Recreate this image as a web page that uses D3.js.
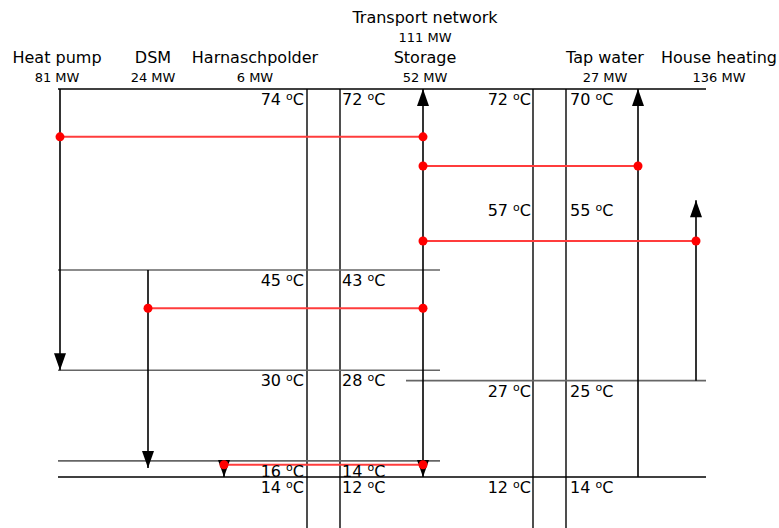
<!DOCTYPE html>
<html><head><meta charset="utf-8">
<script src="https://cdn.jsdelivr.net/npm/d3@7"></script>
<style>body{margin:0;background:#fff}svg{display:block}</style>
</head><body>
<script>
// ---------- DATA ----------
const units = ["Heat pump", "DSM", "Harnaschpolder", "Storage", "Tap water", "House heating"];
const unitMW = [81, 24, 6, 52, 27, 136];
const networkName = "Transport network";
const networkMW = 111;

// unit flows along the temperature axis (levels in °C)
const flowFrom = [74, 46, 16.5, 74, 14, 28.9];
const flowTo = [30.5, 15.4, 14, 14, 74, 56.8];
const flowBoth = [false, false, false, true, false, false];

// heat exchanges (red)
const exFrom = ["Heat pump", "Storage", "Storage", "DSM", "Harnaschpolder"];
const exTo = ["Storage", "Tap water", "House heating", "Storage", "Storage"];
const exLevel = [66.6, 62.1, 50.5, 40.1, 15.9];

// horizontal levels
const rowLevel = [74, 46, 30.5, 28.9, 16.5, 14];
const rowSpan = ["all", "left", "left", "right", "left", "all"];

// temperature labels
const leftLevel = [74, 46, 30.5, 16.5, 14];
const leftSupply = [74, 45, 30, 16, 14];
const leftReturn = [72, 43, 28, 14, 12];
const rightLevel = [74, 56.8, 28.9, 14];
const rightSupply = [72, 57, 27, 12];
const rightReturn = [70, 55, 25, 14];

// ---------- LAYOUT ----------
const W = 779, H = 528;
const font = "DejaVu Sans, Verdana, sans-serif";
const y = d3.scaleLinear().domain([74, 14]).range([89, 477]);
const x = d3.scaleOrdinal().domain(units).range([60, 148, 224, 423, 638, 696]);
const xHead = d3.scaleOrdinal().domain(units).range([57, 153, 255, 425, 605, 719]);
const pipes = [307, 340, 533, 566];
const spanX = {all: [58, 706], left: [58, 440], right: [406, 706]};

const svg = d3.select("body").append("svg").attr("width", W).attr("height", H)
  .style("font-family", font);

// pipes
svg.append("g").selectAll("line").data(pipes).join("line")
  .attr("x1", d => d).attr("x2", d => d)
  .attr("y1", y(74)).attr("y2", H)
  .attr("stroke", "#222").attr("stroke-width", 1.6);

// horizontal rows
svg.append("g").selectAll("line").data(rowLevel).join("line")
  .attr("x1", (d, i) => spanX[rowSpan[i]][0])
  .attr("x2", (d, i) => spanX[rowSpan[i]][1])
  .attr("y1", d => y(d)).attr("y2", d => y(d))
  .attr("stroke", (d, i) => rowSpan[i] === "all" ? "#000" : "#666")
  .attr("stroke-width", 1.6);

// flows
const fg = svg.append("g");
units.forEach((u, i) => {
  const xx = x(u), y0 = y(flowFrom[i]), y1 = y(flowTo[i]);
  fg.append("line").attr("x1", xx).attr("x2", xx).attr("y1", y0).attr("y2", y1)
    .attr("stroke", "#000").attr("stroke-width", 1.6);
  const tri = (tip, dir) => {
    const b = tip - dir * 17;
    return `M${xx - 6},${b}L${xx + 6},${b}L${xx},${tip}Z`;
  };
  const dir = y1 > y0 ? 1 : -1;
  fg.append("path").attr("d", tri(y1, dir)).attr("fill", "#000");
  if (flowBoth[i]) fg.append("path").attr("d", tri(y0, -dir)).attr("fill", "#000");
});

// exchanges
const eg = svg.append("g");
exLevel.forEach((lv, i) => {
  const yy = y(lv), xa = x(exFrom[i]), xb = x(exTo[i]);
  eg.append("line").attr("x1", xa).attr("x2", xb).attr("y1", yy).attr("y2", yy)
    .attr("stroke", "#ff3c3c").attr("stroke-width", 2);
  [xa, xb].forEach(xx => eg.append("circle").attr("cx", xx).attr("cy", yy).attr("r", 4.5).attr("fill", "red"));
});

// headers
const hg = svg.append("g").attr("text-anchor", "middle").attr("fill", "#000");
units.forEach((u, i) => {
  hg.append("text").attr("x", xHead(u)).attr("y", 63).attr("font-size", 16).text(u);
  hg.append("text").attr("x", xHead(u)).attr("y", 82).attr("font-size", 13).text(unitMW[i] + " MW");
});
hg.append("text").attr("x", 425).attr("y", 23).attr("font-size", 16).text(networkName);
hg.append("text").attr("x", 425).attr("y", 42).attr("font-size", 13).text(networkMW + " MW");

// temperature labels
function tLabel(xx, yy, anchor, v) {
  const t = svg.append("text").attr("x", xx).attr("y", yy).attr("font-size", 16)
    .attr("text-anchor", anchor).attr("fill", "#000");
  t.append("tspan").text(v + " ");
  t.append("tspan").attr("font-size", 11).attr("dy", -5.5).text("o");
  t.append("tspan").attr("dy", 5.5).text("C");
}
leftLevel.forEach((lv, i) => {
  tLabel(304, y(lv) + 16, "end", leftSupply[i]);
  tLabel(342, y(lv) + 16, "start", leftReturn[i]);
});
rightLevel.forEach((lv, i) => {
  tLabel(531, y(lv) + 16, "end", rightSupply[i]);
  tLabel(570, y(lv) + 16, "start", rightReturn[i]);
});
</script>
</body></html>
